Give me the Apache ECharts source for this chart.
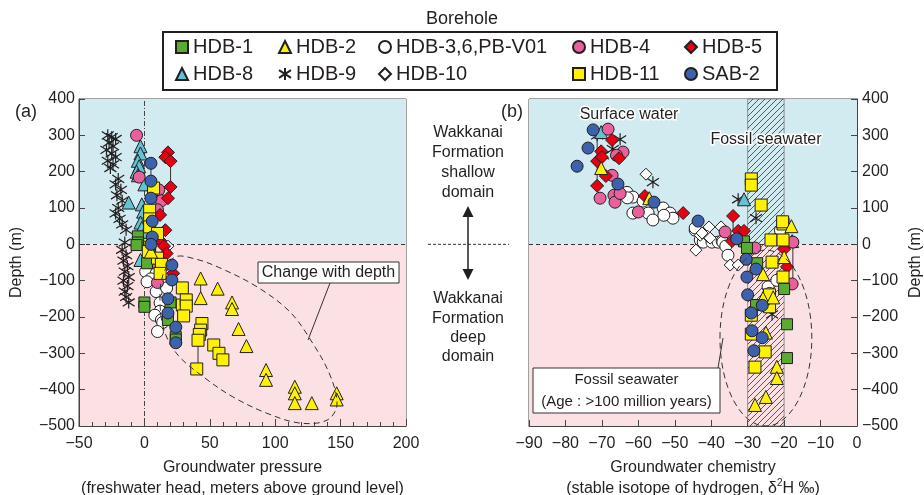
<!DOCTYPE html>
<html><head><meta charset="utf-8">
<script src="https://cdn.jsdelivr.net/npm/echarts@6/dist/echarts.min.js"></script>
<style>html,body{margin:0;padding:0;background:#fff}#c{width:924px;height:495px}</style>
</head><body><div id="c"></div>
<script>
// ---------- DATA ----------
const boreholes = ['HDB-1','HDB-2','HDB-3,6,PB-V01','HDB-4','HDB-5','HDB-8','HDB-9','HDB-10','HDB-11','SAB-2'];
const legendRow1 = ['HDB-1','HDB-2','HDB-3,6,PB-V01','HDB-4','HDB-5'];
const legendRow2 = ['HDB-8','HDB-9','HDB-10','HDB-11','SAB-2'];

// (a) Groundwater pressure: [freshwater head (m), depth (m)]
const pHDB1  = [[-5,22],[-5,5],[-6,-2],[2,-52],[0,-160],[0,-172],[18,-208],[20,-160],[24,-255],[24,-262]];
const pHDB2  = [[5,-20],[43,-94],[43,-148],[56,-122],[67,-160],[67,-178],[72,-233],[78,-280],[93,-346],[93,-373],[115,-392],[115,-410],[115,-437],[128,-437],[147,-410],[147,-427]];
const pHDB3  = [[1,-75],[9,-80],[5,-95],[2,-103],[9,-130],[17,-120],[12,-161],[12,-184],[8,-195],[13,-208],[14,-215],[10,-240]];
const pHDB4  = [[-6,300],[-4,185],[11,150],[13,120],[10,95],[8,-50],[10,-105]];
const pHDB5  = [[18,253],[16,240],[20,229],[20,158],[18,127],[12,81],[16,39],[12,10],[15,-5],[17,-25],[22,-80]];
const pHDB8  = [[-3,270],[-3,250],[-5,230],[-4,215],[-6,200],[-5,190],[0,165],[-12,115],[-2,110],[-1,90],[-3,60],[-2,45],[0,30],[-3,-43]];
const pHDB9  = [[-28,300],[-25,295],[-22,290],[-27,280],[-24,270],[-29,260],[-25,250],[-22,240],[-28,230],[-24,220],[-26,210],
                [-20,180],[-22,165],[-18,150],[-21,135],[-17,120],[-20,100],[-22,85],[-19,70],[-17,55],[-14,40],
                [-15,5],[-17,-15],[-14,-30],[-16,-45],[-13,-60],[-15,-75],[-12,-90],[-16,-100],[-13,-115],[-15,-130],[-14,-145],[-12,-160]];
const pHDB10 = [[18,-5]];
const pHDB11 = [[7,155],[4,94],[4,70],[4,48],[10,30],[4,0],[4,-8],[3,-20],[10,-38],[13,-55],[12,-80],[29,-120],[29,-167],[32,-153],[32,-170],[30,-197],[44,-218],[43,-236],[42,-248],[41,-264],[53,-277],[57,-300],[60,-318],[40,-343]];
const pSAB2  = [[5,223],[5,174],[5,127],[6,64],[6,20],[5,0],[21,-57],[21,-98],[18,-150],[18,-189],[24,-228],[24,-271]];
// measured intervals [x, depthTop, depthBottom]
const pRanges = [[20,229,127],[5,223,20],[41,-264,-343],[43,-94,-148]];

// (b) Groundwater chemistry: [δ2H (‰), depth (m)]
const cHDB1  = [[-31,8],[-30.2,-10],[-27.4,-52],[-20,-123],[-27.7,-167],[-19.2,-220],[-19.2,-313]];
const cHDB2  = [[-70.2,210],[-57,127],[-18,50],[-20,-35],[-25.8,-82],[-25.8,-148],[-23,-146],[-25,-243],[-22,-337],[-22,-368],[-25,-420],[-28,-442]];
const cHDB3  = [[-63.1,143],[-61.5,130],[-63,128],[-58.7,119],[-61.5,86],[-57.3,86],[-56,67],[-53.2,100],[-51.3,86],[-50.5,72],[-53,80],[-44.4,39],[-44.4,45],[-43,12],[-42.2,6],[-39.8,6],[-38.1,6],[-37,9],[-36.8,6],[-36,-5],[-35.4,-30],[-24.4,-117],[-24,-135],[-22,-99],[-21,39]];
const cHDB4  = [[-68.3,317],[-64.2,254],[-66,245],[-67.2,190],[-70.5,127],[-66.7,135],[-66.4,116],[-65,140],[-60,89],[-36.2,34],[-28,-10],[-17.8,-109],[-17.6,6]];
const cHDB5  = [[-67.2,287],[-70.2,256],[-71.3,229],[-65.3,237],[-68.9,188],[-71.3,161],[-70,240],[-58.2,133],[-47.7,86],[-34,78],[-32.6,37],[-31,37],[-34.3,9],[-20,-13],[-19.2,-62]];
const cHDB8  = [[-70.2,309],[-31,124],[-17.8,9]];
const cHDB9  = [[-71.3,300],[-65,289],[-67,262],[-69.7,245],[-56,171],[-32.6,124],[-27.7,72],[-23.3,-193]];
const cHDB10 = [[-57.9,193],[-40.6,48],[-43,25],[-37.3,48],[-44.2,-16],[-34.8,-57],[-32.6,-57],[-41,22],[-42.5,31],[-40.3,17]];
const cHDB11 = [[-29,180],[-29,163],[-26.3,108],[-20.3,56],[-20.4,62],[-23.6,12],[-20.3,12],[-23.3,-49],[-20.3,-90],[-24,-139],[-24,-172],[-29,-195],[-29,-247],[-25.2,-296],[-28,-338]];
const cSAB2  = [[-72.4,315],[-73.8,265],[-76.8,215],[-65.6,166],[-55.7,116],[-43.6,64],[-33,15],[-30.4,-41],[-27.7,-68],[-30.2,-90],[-30,-139],[-26,-168],[-29,-189],[-28.8,-238],[-26,-257],[-28.3,-293]];
const cRanges = [[-71.3,309,163],[-67.2,287,237],[-34,78,37],[-17.6,6,-109]];

const fossilBand = [-30, -20];

// ---------- STYLE ----------
const FONT = "'Liberation Sans', Arial, Helvetica, sans-serif";
const INK = '#231f20';
const STY = {
  'HDB-1': {symbol:'rect', size:11, color:'#5aab32'},
  'HDB-2': {symbol:'triangle', size:13, color:'#fff200'},
  'HDB-3,6,PB-V01': {symbol:'circle', size:12, color:'#ffffff'},
  'HDB-4': {symbol:'circle', size:12, color:'#e9619c'},
  'HDB-5': {symbol:'diamond', size:13, color:'#e60012'},
  'HDB-8': {symbol:'triangle', size:13, color:'#62c3d6'},
  'HDB-9': {symbol:'path://M5,0L5,10M0,1.8L10,8.2M0,8.2L10,1.8', size:12, color:'rgba(0,0,0,0)'},
  'HDB-10': {symbol:'diamond', size:12, color:'#ffffff'},
  'HDB-11': {symbol:'rect', size:12, color:'#fff200'},
  'SAB-2': {symbol:'circle', size:12, color:'#3c62ad'}
};
const pData = {'HDB-1':pHDB1,'HDB-2':pHDB2,'HDB-3,6,PB-V01':pHDB3,'HDB-4':pHDB4,'HDB-5':pHDB5,'HDB-8':pHDB8,'HDB-9':pHDB9,'HDB-10':pHDB10,'HDB-11':pHDB11,'SAB-2':pSAB2};
const cData = {'HDB-1':cHDB1,'HDB-2':cHDB2,'HDB-3,6,PB-V01':cHDB3,'HDB-4':cHDB4,'HDB-5':cHDB5,'HDB-8':cHDB8,'HDB-9':cHDB9,'HDB-10':cHDB10,'HDB-11':cHDB11,'SAB-2':cSAB2};
const drawOrder = ['HDB-9','HDB-3,6,PB-V01','HDB-10','HDB-8','HDB-4','HDB-5','HDB-1','HDB-11','HDB-2','SAB-2'];

function hatchCanvas(){
  const s=6, c=document.createElement('canvas'); c.width=s; c.height=s;
  const g=c.getContext('2d'); g.strokeStyle='#333'; g.lineWidth=0.8;
  g.beginPath(); g.moveTo(0,s); g.lineTo(s,0); g.moveTo(-1,1); g.lineTo(1,-1); g.moveTo(s-1,s+1); g.lineTo(s+1,s-1); g.stroke();
  return c;
}
const minus = v => String(v).replace('-', '\u2212');

const chart = echarts.init(document.getElementById('c'), null, {renderer:'canvas'});

const axisCommon = {
  type:'value',
  axisLine:{show:true, onZero:false, lineStyle:{color:'#444', width:1}},
  axisTick:{show:true, inside:true, length:6, lineStyle:{color:'#444'}},
  splitLine:{show:false},
  axisLabel:{fontSize:16, color:INK, fontFamily:FONT, formatter:minus},
  nameTextStyle:{fontSize:16, color:INK, fontFamily:FONT, lineHeight:21}
};

function bgSeries(xi){
  return {
    type:'scatter', xAxisIndex:xi, yAxisIndex:xi, data:[], silent:true, z:0,
    markArea:{silent:true, z:0, data:[
      [{yAxis:0, itemStyle:{color:'#d2ebf1'}},{yAxis:400}],
      [{yAxis:-500, itemStyle:{color:'#fbe1e3'}},{yAxis:0}]
    ]},
    markLine:{silent:true, symbol:'none', label:{show:false}, z:1,
      data: xi===0 ? [
        {yAxis:0, lineStyle:{type:[4,3], color:'#333', width:1}},
        {xAxis:0, lineStyle:{type:[5,2,1,2], color:'#444', width:1}}
      ] : [
        {yAxis:0, lineStyle:{type:[4,3], color:'#333', width:1}}
      ]}
  };
}
const hatchSeries = {
  type:'scatter', xAxisIndex:1, yAxisIndex:1, data:[], silent:true, z:1,
  markArea:{silent:true, data:[[{xAxis:fossilBand[0], itemStyle:{color:{image:hatchCanvas(), repeat:'repeat'}, borderColor:'#555', borderWidth:0.6}},{xAxis:fossilBand[1]}]]}
};

function rangeSeries(ranges, xi){
  return ranges.map(r => ({
    type:'line', xAxisIndex:xi, yAxisIndex:xi, data:[[r[0],r[1]],[r[0],r[2]]],
    symbol:'none', silent:true, z:1, lineStyle:{color:'#333', width:1}
  }));
}

const series = [bgSeries(0), bgSeries(1), hatchSeries, ...rangeSeries(pRanges,0), ...rangeSeries(cRanges,1)];
drawOrder.forEach((name, k) => {
  const st = STY[name];
  const isStar = name === 'HDB-9';
  [0,1].forEach(xi => {
    series.push({
      name, type:'scatter', xAxisIndex:xi, yAxisIndex:xi,
      data: xi===0 ? pData[name] : cData[name],
      symbol: st.symbol, symbolSize: st.size, symbolKeepAspect:true,
      itemStyle:{color:st.color, borderColor: INK, borderWidth: isStar ? 1.2 : 1, opacity:1},
      z: 3 + k
    });
  });
});

const legendCols = [181, 284, 384, 578, 690];
const legends = [];
[legendRow1, legendRow2].forEach((row, ri) => {
  row.forEach((name, ci) => {
    legends.push({
      left: legendCols[ci] - 6, top: ri===0 ? 37 : 64, padding:0,
      itemWidth:12, itemHeight:12, selectedMode:false,
      data:[name],
      textStyle:{fontSize:20, color:INK, fontFamily:FONT, lineHeight:20}
    });
  });
});

const gridCommon = {show:true, borderColor:'#444', borderWidth:1, backgroundColor:'transparent', containLabel:false, outerBoundsMode:'none'};

const option = {
  backgroundColor:'#fff',
  animation:false,
  textStyle:{fontFamily:FONT},
  legend: legends,
  grid:[
    Object.assign({left:79, top:99, width:327, height:327}, gridCommon),
    Object.assign({left:529, top:99, width:328, height:327}, gridCommon)
  ],
  xAxis:[
    Object.assign({}, axisCommon, {gridIndex:0, min:-50, max:200, interval:50,
      axisTick:{show:true, inside:true, length:7, lineStyle:{color:'#444'}},
      minorTick:{show:true, splitNumber:5, length:4, lineStyle:{color:'#444'}},
      axisLabel:Object.assign({}, axisCommon.axisLabel, {margin:10}),
      name:'Groundwater pressure\n(freshwater head, meters above ground level)', nameLocation:'middle', nameGap:29}),
    Object.assign({}, axisCommon, {gridIndex:1, min:-90, max:0, interval:10,
      axisLabel:Object.assign({}, axisCommon.axisLabel, {margin:10}),
      name:'Groundwater chemistry\n{t|(stable isotope of hydrogen, δ}{s|2}{t|H ‰)}', nameLocation:'middle', nameGap:29,
      nameTextStyle:Object.assign({}, axisCommon.nameTextStyle, {rich:{
        t:{fontSize:16, color:INK, fontFamily:FONT, lineHeight:21},
        s:{fontSize:10, color:INK, fontFamily:FONT, verticalAlign:'top', lineHeight:21, padding:[0,0,8,0]}
      }})})
  ],
  yAxis:[
    Object.assign({}, axisCommon, {gridIndex:0, min:-500, max:400, interval:100,
      axisLabel:Object.assign({}, axisCommon.axisLabel, {margin:4}),
      name:'Depth (m)', nameLocation:'middle', nameGap:52}),
    Object.assign({}, axisCommon, {gridIndex:1, position:'right', min:-500, max:400, interval:100,
      axisLabel:Object.assign({}, axisCommon.axisLabel, {margin:5}),
      name:'Depth (m)', nameLocation:'middle', nameGap:48})
  ],
  series
};
chart.setOption(option);

// ---------- ANNOTATIONS ----------
const P0 = v => chart.convertToPixel({gridIndex:0}, v);
const P1 = v => chart.convertToPixel({gridIndex:1}, v);
const txt = (x,y,text,opt) => Object.assign({type:'text', x, y, z:50, style:Object.assign({text, fill:INK, font:'16px '+FONT, align:'center', verticalAlign:'middle'}, opt||{})});

// "Change with depth" outline (data coordinates of panel a)
const changeOutline = [[11.9,-153],[14.2,-84],[23.4,-35],[38.7,-40],[57.8,-65],[86.1,-117],[111.3,-186],[128.1,-269],[141.9,-360],[147.2,-442],[139.6,-484],[119,-492],[93.7,-465],[67.7,-420],[46.3,-368],[25.7,-305],[15,-236]];
const outlinePx = changeOutline.map(P0);
// Fossil seawater ellipse (panel b)
const ec = P1([-25,-258]), ex = P1([-12.4,-258]), ey = P1([-25,-16]);
const zeroY = P0([0,0])[1];

const graphic = [
  {type:'text', left:'center', top:10, z:50, style:{text:'Borehole', fill:INK, font:'18px '+FONT}},
  {type:'rect', z:40, shape:{x:163, y:32, width:614, height:58}, style:{fill:'none', stroke:INK, lineWidth:2}},
  txt(26,112,'(a)',{font:'18px '+FONT}),
  txt(512,112,'(b)',{font:'18px '+FONT}),
  txt(468,133,'Wakkanai'), txt(468,153,'Formation'), txt(468,173,'shallow'), txt(468,193,'domain'),
  txt(468,299,'Wakkanai'), txt(468,319,'Formation'), txt(468,338,'deep'), txt(468,357,'domain'),
  {type:'line', z:50, shape:{x1:428, y1:zeroY, x2:509, y2:zeroY}, style:{stroke:'#333', lineWidth:1, lineDash:[3,2]}},
  {type:'line', z:50, shape:{x1:468, y1:214, x2:468, y2:272}, style:{stroke:INK, lineWidth:1.5}},
  {type:'polygon', z:50, shape:{points:[[468,206],[462.5,217],[473.5,217]]}, style:{fill:INK}},
  {type:'polygon', z:50, shape:{points:[[468,280],[462.5,269],[473.5,269]]}, style:{fill:INK}},
  {type:'polygon', z:45, shape:{points:outlinePx, smooth:0.35}, style:{fill:'none', stroke:'#333', lineWidth:1, lineDash:[6,4]}},
  {type:'line', z:46, shape:{x1:330, y1:283, x2:308, y2:340}, style:{stroke:'#333', lineWidth:1}},
  {type:'rect', z:47, shape:{x:258, y:262, width:141, height:21}, style:{fill:'#fff', stroke:'#333', lineWidth:1}},
  txt(328.5,272.5,'Change with depth'),
  {type:'ellipse', z:45, shape:{cx:ec[0], cy:ec[1], rx:Math.abs(ex[0]-ec[0]), ry:Math.abs(ec[1]-ey[1])}, style:{fill:'none', stroke:'#333', lineWidth:1, lineDash:[6,4]}},
  {type:'line', z:46, shape:{x1:718, y1:368, x2:723, y2:338}, style:{stroke:'#333', lineWidth:1}},
  {type:'rect', z:47, shape:{x:533, y:368, width:187, height:45}, style:{fill:'#fff', stroke:'#333', lineWidth:1}},
  txt(626.5,380,'Fossil seawater',{font:'15px '+FONT}),
  txt(626.5,402,'(Age : >100 million years)',{font:'15px '+FONT}),
  txt(629,115,'Surface water',{stroke:'#fff', lineWidth:3}),
  txt(766,140,'Fossil seawater',{stroke:'#fff', lineWidth:3})
];
chart.setOption({graphic});
</script>
</body></html>
